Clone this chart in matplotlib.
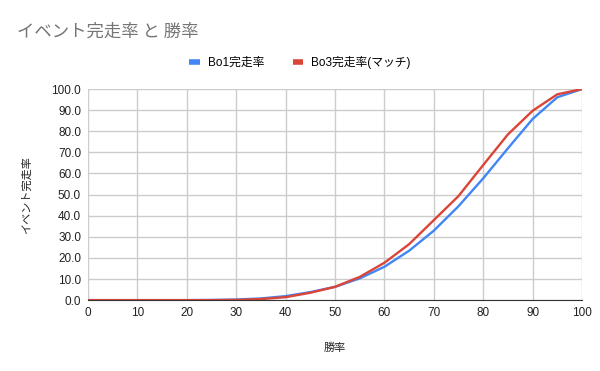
import numpy as np
import matplotlib.pyplot as plt

plt.rcParams['font.family'] = ['Liberation Sans', 'Noto Sans CJK JP', 'DejaVu Sans']

win_rate = [0, 5, 10, 15, 20, 25, 30, 35, 40, 45, 50, 55, 60, 65, 70, 75, 80, 85, 90, 95, 100]
bo1 = [0.0, 0.0, 0.0, 0.0, 0.0, 0.1, 0.3, 0.8, 1.9, 3.8, 6.3, 10.3, 15.8, 23.4, 32.9, 44.5, 57.7, 71.9, 85.8, 96.1, 100.0]
bo3 = [0.0, 0.0, 0.0, 0.0, 0.0, 0.0, 0.1, 0.5, 1.4, 3.5, 6.3, 11.0, 17.7, 26.5, 37.9, 49.3, 64.0, 78.5, 89.7, 97.5, 100.0]

fig = plt.figure(figsize=(6, 3.71), dpi=100)
ax = fig.add_axes([0.1467, 0.191, 0.8233, 0.569])

ax.plot(win_rate, bo1, color='#4285F4', lw=1.7, label='Bo1完走率')
ax.plot(win_rate, bo3, color='#DB4437', lw=1.7, label='Bo3完走率(マッチ)')

ax.set_xlim(0, 100)
ax.set_ylim(0, 100)
ax.set_xticks(np.arange(0, 101, 10))
ax.set_yticks(np.arange(0, 101, 10))
ax.set_yticklabels([f'{v:.1f}' for v in np.arange(0, 101, 10)])
ax.grid(True, color='#cccccc', lw=1)
ax.set_axisbelow(True)
for s in ['top', 'right', 'left']:
    ax.spines[s].set_visible(False)
ax.spines['bottom'].set_color('#333333')
ax.tick_params(length=0, labelsize=8.5, colors='#222222', pad=5)

ax.set_xlabel('勝率', fontsize=8, color='#222222', labelpad=17)
ax.set_ylabel('イベント完走率', fontsize=8, color='#222222', labelpad=14)

fig.text(0.028, 0.915, 'イベント完走率 と 勝率', fontsize=12.5, color='#757575', va='center',
         family=['Noto Sans CJK JP', 'DejaVu Sans'])
leg = fig.legend(loc='center', bbox_to_anchor=(0.5, 0.832), ncol=2, frameon=False,
                 fontsize=8.5, handlelength=0.9, handletextpad=0.7, columnspacing=2.4)
for h in leg.legend_handles:
    h.set_linewidth(4)
    h.set_solid_capstyle('butt')

fig.savefig('out.png', dpi=100)
